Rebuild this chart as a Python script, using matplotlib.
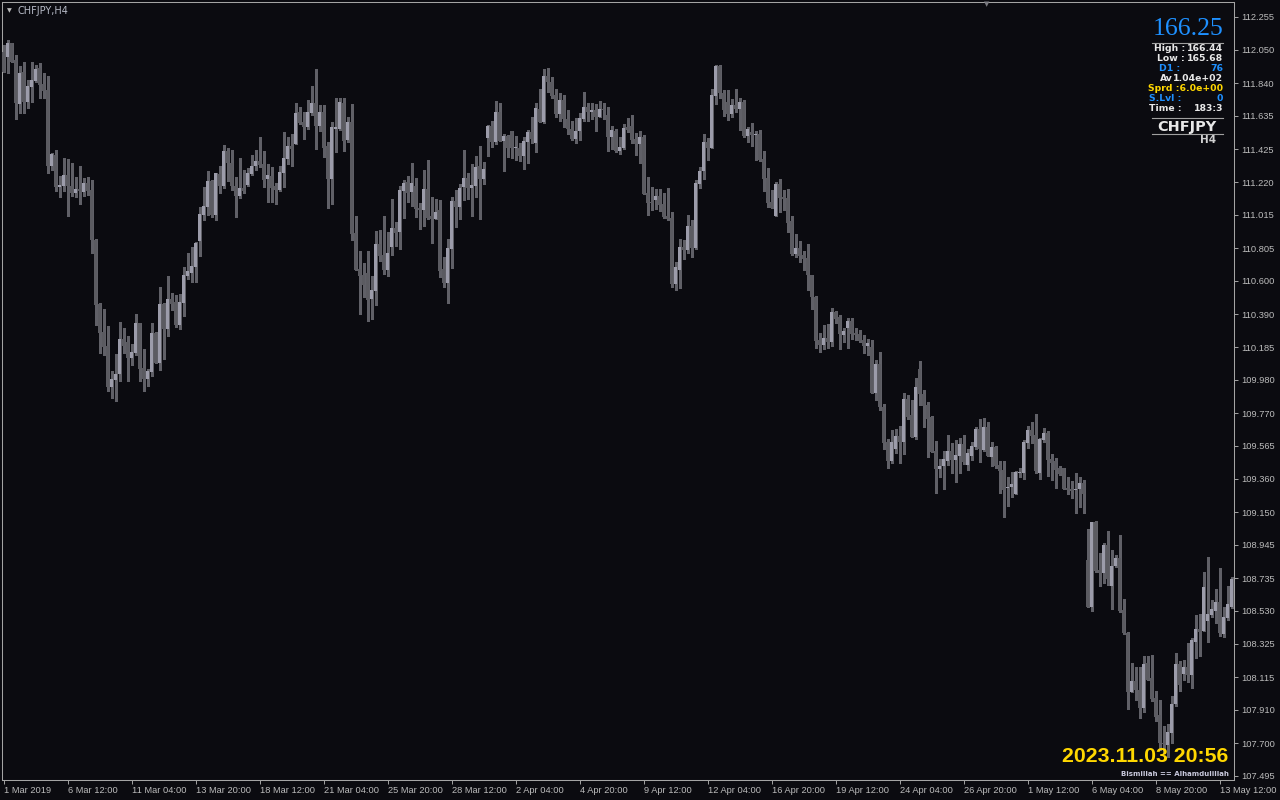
import matplotlib
matplotlib.use("Agg")
import matplotlib.pyplot as plt
from matplotlib.lines import Line2D
import numpy as np

symbol = "CHFJPY"
timeframe = "H4"

# H4 candles, 1 Mar 2019 20:00 -> 13 May 2019
opens = [
    112.038, 112.006, 112.090, 111.985, 111.709, 111.910, 111.724, 111.818, 111.856, 111.935,
    111.835, 111.797, 111.323, 111.390, 111.191, 111.197, 111.264, 111.197, 111.153, 111.174,
    111.160, 111.212, 111.170, 110.856, 110.455, 110.279, 110.192, 109.937, 109.978, 110.016,
    110.236, 110.215, 110.118, 110.150, 110.334, 110.052, 109.985, 110.031, 110.271, 110.087,
    110.455, 110.298, 110.484, 110.466, 110.323, 110.463, 110.631, 110.652, 110.689, 110.850,
    111.013, 111.066, 111.226, 111.013, 111.270, 111.195, 111.415, 111.341, 111.195, 111.132,
    111.181, 111.201, 111.270, 111.323, 111.352, 111.331, 111.239, 111.258, 111.195, 111.170,
    111.275, 111.364, 111.446, 111.459, 111.661, 111.599, 111.567, 111.651, 111.714, 111.574,
    111.661, 111.446, 111.239, 111.553, 111.553, 111.718, 111.484, 111.599, 110.898, 110.675,
    110.637, 110.652, 110.486, 110.539, 110.831, 110.762, 110.668, 110.815, 110.930, 110.905,
    111.166, 111.220, 111.160, 111.195, 111.059, 111.047, 111.176, 111.007, 110.990, 111.045,
    110.673, 110.589, 110.800, 111.101, 111.066, 111.191, 111.247, 111.185, 111.195, 111.321,
    111.237, 111.498, 111.571, 111.473, 111.661, 111.479, 111.509, 111.540, 111.431, 111.431,
    111.383, 111.473, 111.536, 111.467, 111.678, 111.599, 111.887, 111.849, 111.766, 111.645,
    111.734, 111.613, 111.551, 111.488, 111.542, 111.615, 111.688, 111.661, 111.672, 111.630,
    111.678, 111.640, 111.505, 111.542, 111.417, 111.436, 111.567, 111.571, 111.490, 111.459,
    111.500, 111.153, 111.097, 111.107, 111.132, 111.082, 111.007, 110.992, 110.581, 110.668,
    110.810, 110.794, 110.944, 110.804, 111.208, 111.289, 111.469, 111.431, 111.762, 111.948,
    111.780, 111.720, 111.647, 111.703, 111.678, 111.720, 111.509, 111.536, 111.515, 111.521,
    111.362, 111.243, 111.097, 111.009, 111.208, 111.128, 111.122, 110.976, 110.767, 110.804,
    110.762, 110.742, 110.637, 110.501, 110.229, 110.198, 110.240, 110.215, 110.407, 110.372,
    110.261, 110.307, 110.351, 110.275, 110.267, 110.229, 110.194, 110.188, 109.899, 110.079,
    109.811, 109.588, 109.471, 109.546, 109.627, 109.588, 109.859, 109.759, 109.623, 110.047,
    109.891, 109.822, 109.749, 109.533, 109.418, 109.441, 109.471, 109.533, 109.477, 109.504,
    109.577, 109.445, 109.504, 109.560, 109.671, 109.539, 109.686, 109.494, 109.560, 109.445,
    109.414, 109.299, 109.305, 109.264, 109.397, 109.397, 109.585, 109.665, 109.634, 109.397,
    109.602, 109.648, 109.483, 109.470, 109.429, 109.429, 109.303, 109.295, 109.289, 109.293,
    109.330, 108.850, 108.553, 109.086, 108.787, 108.770, 108.944, 108.689, 108.814, 108.860,
    108.536, 108.394, 108.024, 108.091, 108.034, 107.919, 108.202, 108.107, 107.982, 107.878,
    107.704, 107.689, 107.763, 107.947, 108.197, 108.135, 108.181, 108.128, 108.337, 108.417,
    108.406, 108.469, 108.505, 108.532, 108.588, 108.386, 108.488, 108.557,
]
highs = [
    112.079, 112.111, 112.094, 112.017, 111.948, 111.973, 111.860, 111.973, 111.954, 111.964,
    111.902, 111.885, 111.404, 111.421, 111.260, 111.373, 111.364, 111.337, 111.254, 111.321,
    111.243, 111.254, 111.233, 110.861, 110.459, 110.426, 110.317, 110.037, 110.141, 110.340,
    110.307, 110.254, 110.204, 110.392, 110.338, 110.173, 110.047, 110.334, 110.281, 110.564,
    110.463, 110.631, 110.522, 110.512, 110.516, 110.685, 110.777, 110.810, 110.846, 111.065,
    111.191, 111.289, 111.233, 111.279, 111.321, 111.452, 111.431, 111.421, 111.254, 111.369,
    111.295, 111.306, 111.390, 111.421, 111.500, 111.417, 111.333, 111.312, 111.216, 111.321,
    111.536, 111.500, 111.521, 111.718, 111.693, 111.661, 111.734, 111.822, 111.929, 111.703,
    111.703, 111.473, 111.599, 111.749, 111.745, 111.745, 111.630, 111.709, 111.007, 110.787,
    110.714, 110.787, 110.631, 110.913, 110.919, 111.007, 110.905, 111.114, 110.967, 111.195,
    111.233, 111.258, 111.341, 111.243, 111.091, 111.295, 111.358, 111.128, 111.112, 111.107,
    110.752, 110.863, 111.128, 111.170, 111.206, 111.421, 111.275, 111.331, 111.383, 111.446,
    111.348, 111.578, 111.603, 111.728, 111.718, 111.521, 111.515, 111.540, 111.509, 111.463,
    111.500, 111.546, 111.630, 111.714, 111.801, 111.927, 111.933, 111.877, 111.801, 111.776,
    111.766, 111.672, 111.603, 111.619, 111.655, 111.783, 111.718, 111.714, 111.707, 111.728,
    111.718, 111.693, 111.571, 111.553, 111.500, 111.584, 111.619, 111.640, 111.530, 111.540,
    111.515, 111.249, 111.191, 111.174, 111.174, 111.149, 111.181, 111.034, 110.716, 110.863,
    110.856, 111.013, 110.982, 111.233, 111.316, 111.521, 111.494, 111.801, 111.954, 111.954,
    111.797, 111.797, 111.739, 111.801, 111.745, 111.734, 111.567, 111.588, 111.540, 111.546,
    111.417, 111.306, 111.170, 111.222, 111.239, 111.170, 111.174, 111.007, 110.894, 110.850,
    110.790, 110.831, 110.640, 110.505, 110.271, 110.323, 110.328, 110.432, 110.411, 110.386,
    110.307, 110.369, 110.365, 110.302, 110.292, 110.261, 110.234, 110.229, 110.104, 110.156,
    109.828, 109.608, 109.665, 109.671, 109.690, 109.895, 109.884, 109.853, 109.993, 110.098,
    109.916, 109.843, 109.753, 109.596, 109.481, 109.533, 109.634, 109.585, 109.602, 109.613,
    109.634, 109.544, 109.592, 109.686, 109.732, 109.742, 109.713, 109.588, 109.567, 109.471,
    109.471, 109.368, 109.404, 109.410, 109.429, 109.602, 109.690, 109.717, 109.765, 109.613,
    109.680, 109.659, 109.512, 109.487, 109.441, 109.429, 109.372, 109.345, 109.393, 109.372,
    109.351, 109.042, 109.090, 109.094, 108.891, 108.958, 109.031, 108.912, 108.881, 109.006,
    108.605, 108.400, 108.206, 108.181, 108.181, 108.250, 108.248, 108.254, 108.028, 107.972,
    107.809, 107.819, 107.997, 108.264, 108.216, 108.222, 108.327, 108.358, 108.505, 108.511,
    108.776, 108.871, 108.599, 108.666, 108.797, 108.557, 108.689, 108.745,
]
lows = [
    111.912, 111.902, 111.975, 111.613, 111.651, 111.651, 111.682, 111.724, 111.845, 111.745,
    111.745, 111.279, 111.295, 111.166, 111.128, 111.166, 111.009, 111.134, 111.128, 111.080,
    111.134, 111.139, 110.777, 110.323, 110.150, 110.135, 109.912, 109.868, 109.849, 109.974,
    110.146, 109.974, 110.072, 110.135, 109.974, 109.912, 109.943, 110.006, 110.083, 110.041,
    110.108, 110.254, 110.417, 110.313, 110.298, 110.380, 110.610, 110.591, 110.591, 110.758,
    110.982, 111.013, 110.999, 110.982, 111.153, 111.181, 111.229, 111.170, 111.003, 111.122,
    111.149, 111.195, 111.264, 111.295, 111.316, 111.191, 111.097, 111.097, 111.080, 111.164,
    111.191, 111.331, 111.323, 111.459, 111.582, 111.490, 111.553, 111.640, 111.427, 111.542,
    111.375, 111.059, 111.082, 111.410, 111.546, 111.417, 111.473, 110.856, 110.668, 110.392,
    110.497, 110.351, 110.361, 110.449, 110.725, 110.641, 110.631, 110.762, 110.819, 110.800,
    110.992, 111.097, 111.070, 111.003, 110.923, 110.944, 110.986, 110.836, 110.986, 110.622,
    110.564, 110.463, 110.683, 110.940, 110.986, 111.107, 111.112, 111.009, 111.128, 110.986,
    111.206, 111.383, 111.442, 111.456, 111.477, 111.291, 111.379, 111.373, 111.358, 111.354,
    111.302, 111.337, 111.463, 111.410, 111.599, 111.588, 111.787, 111.749, 111.626, 111.603,
    111.567, 111.521, 111.484, 111.467, 111.484, 111.603, 111.603, 111.613, 111.542, 111.626,
    111.613, 111.417, 111.425, 111.410, 111.396, 111.425, 111.536, 111.467, 111.390, 111.341,
    111.143, 111.013, 111.045, 111.049, 111.040, 110.992, 110.982, 110.560, 110.543, 110.553,
    110.735, 110.777, 110.752, 110.798, 111.181, 111.237, 111.358, 111.431, 111.709, 111.745,
    111.634, 111.609, 111.630, 111.661, 111.546, 111.505, 111.473, 111.446, 111.358, 111.354,
    111.166, 111.066, 111.055, 111.009, 111.034, 111.045, 110.909, 110.762, 110.752, 110.721,
    110.668, 110.543, 110.422, 110.177, 110.156, 110.171, 110.177, 110.192, 110.338, 110.173,
    110.215, 110.181, 110.236, 110.229, 110.219, 110.146, 110.135, 109.899, 109.853, 109.790,
    109.544, 109.429, 109.460, 109.523, 109.456, 109.512, 109.732, 109.623, 109.606, 109.822,
    109.686, 109.494, 109.529, 109.268, 109.368, 109.295, 109.445, 109.397, 109.341, 109.397,
    109.450, 109.414, 109.477, 109.544, 109.466, 109.533, 109.502, 109.439, 109.424, 109.268,
    109.121, 109.188, 109.247, 109.262, 109.368, 109.356, 109.550, 109.581, 109.397, 109.358,
    109.588, 109.376, 109.351, 109.303, 109.383, 109.293, 109.261, 109.236, 109.142, 109.184,
    109.146, 108.553, 108.532, 108.776, 108.689, 108.707, 108.693, 108.540, 108.808, 108.521,
    108.385, 107.913, 108.020, 107.972, 107.857, 107.898, 108.097, 107.967, 107.840, 107.658,
    107.637, 107.616, 107.704, 107.934, 108.030, 108.097, 108.087, 108.049, 108.233, 108.248,
    108.404, 108.337, 108.494, 108.457, 108.373, 108.369, 108.473, 108.551,
]
closes = [
    111.912, 112.090, 111.975, 111.714, 111.906, 111.724, 111.822, 111.860, 111.929, 111.829,
    111.793, 111.323, 111.396, 111.191, 111.201, 111.264, 111.197, 111.153, 111.174, 111.162,
    111.212, 111.166, 110.856, 110.449, 110.275, 110.187, 109.937, 109.983, 110.016, 110.236,
    110.192, 110.118, 110.154, 110.334, 110.047, 109.985, 110.035, 110.271, 110.087, 110.455,
    110.298, 110.486, 110.455, 110.323, 110.466, 110.637, 110.662, 110.693, 110.840, 111.019,
    111.070, 111.226, 111.013, 111.275, 111.195, 111.415, 111.341, 111.195, 111.132, 111.181,
    111.164, 111.275, 111.323, 111.352, 111.327, 111.233, 111.264, 111.181, 111.170, 111.285,
    111.369, 111.446, 111.427, 111.655, 111.588, 111.567, 111.661, 111.714, 111.574, 111.661,
    111.436, 111.239, 111.567, 111.567, 111.724, 111.479, 111.599, 110.894, 110.668, 110.631,
    110.574, 110.480, 110.543, 110.831, 110.756, 110.668, 110.777, 110.930, 110.902, 111.170,
    111.212, 111.153, 111.212, 111.053, 111.047, 111.176, 110.997, 110.990, 111.032, 110.664,
    110.589, 110.804, 111.101, 111.066, 111.185, 111.247, 111.185, 111.201, 111.316, 111.237,
    111.302, 111.571, 111.473, 111.661, 111.479, 111.509, 111.436, 111.436, 111.442, 111.383,
    111.477, 111.536, 111.490, 111.686, 111.599, 111.887, 111.845, 111.762, 111.645, 111.734,
    111.613, 111.551, 111.490, 111.540, 111.619, 111.688, 111.661, 111.672, 111.630, 111.676,
    111.672, 111.505, 111.546, 111.415, 111.438, 111.561, 111.546, 111.484, 111.459, 111.500,
    111.145, 111.091, 111.086, 111.132, 111.076, 110.999, 110.988, 110.581, 110.685, 110.810,
    110.794, 110.944, 110.804, 111.212, 111.289, 111.469, 111.431, 111.766, 111.948, 111.776,
    111.672, 111.647, 111.703, 111.678, 111.720, 111.509, 111.551, 111.515, 111.521, 111.358,
    111.239, 111.091, 111.059, 111.208, 111.122, 111.114, 110.965, 110.767, 110.804, 110.758,
    110.737, 110.637, 110.497, 110.223, 110.198, 110.240, 110.215, 110.403, 110.361, 110.267,
    110.286, 110.351, 110.267, 110.259, 110.225, 110.194, 110.213, 109.899, 110.079, 109.811,
    109.585, 109.471, 109.588, 109.627, 109.588, 109.859, 109.744, 109.623, 109.937, 109.889,
    109.818, 109.734, 109.529, 109.418, 109.441, 109.483, 109.533, 109.477, 109.508, 109.577,
    109.466, 109.519, 109.565, 109.671, 109.546, 109.686, 109.504, 109.560, 109.439, 109.408,
    109.289, 109.310, 109.326, 109.404, 109.404, 109.592, 109.665, 109.629, 109.408, 109.608,
    109.648, 109.477, 109.460, 109.414, 109.389, 109.295, 109.289, 109.284, 109.295, 109.330,
    109.264, 108.553, 109.086, 108.781, 108.770, 108.944, 108.730, 108.814, 108.860, 108.530,
    108.390, 108.024, 108.091, 108.034, 107.919, 108.197, 108.097, 107.978, 107.867, 107.704,
    107.694, 107.773, 107.947, 108.197, 108.066, 108.181, 108.128, 108.348, 108.417, 108.400,
    108.678, 108.511, 108.542, 108.588, 108.394, 108.494, 108.574, 108.730,
]

time_labels = ["1 Mar 2019", "6 Mar 12:00", "11 Mar 04:00", "13 Mar 20:00", "18 Mar 12:00",
               "21 Mar 04:00", "25 Mar 20:00", "28 Mar 12:00", "2 Apr 04:00", "4 Apr 20:00",
               "9 Apr 12:00", "12 Apr 04:00", "16 Apr 20:00", "19 Apr 12:00", "24 Apr 04:00",
               "26 Apr 20:00", "1 May 12:00", "6 May 04:00", "8 May 20:00", "13 May 12:00"]
price_ticks = [112.255, 112.050, 111.840, 111.635, 111.425, 111.220, 111.015, 110.805,
               110.600, 110.390, 110.185, 109.980, 109.770, 109.565, 109.360, 109.150,
               108.945, 108.735, 108.530, 108.325, 108.115, 107.910, 107.700, 107.495]

# info panel (values as shown by the indicator); empty value = drawn as one string
info_rows = [("High :", "166.44"), ("Low :", "165.68"), ("D1 :", "76"),
             ("Av", "1.04e+02"), ("Sprd :6.0e+00", ""), ("S.Lvl :", "0"), ("Time :", "183:3")]
info_price = "166.25"
clock_text = "2023.11.03 20:56"
footer_text = "Bismillah == Alhamdulillah"

bg = "#0b0b10"
bull_col = "#9c9caa"
bear_col = "#5b5b61"
wick_col = "#606067"
frame_col = "#a4a4a4"
label_col = "#bcbcbc"
blue = "#1e90ff"
white = "#e8e8e8"
yellow = "#ffd700"

plt.rcParams["font.family"] = ["Liberation Sans", "DejaVu Sans"]

W, H = 1280, 800
fig = plt.figure(figsize=(W / 100, H / 100), dpi=100, facecolor=bg)
ax = fig.add_axes([2 / W, 20 / H, 1232 / W, 778 / H])
ax.set_facecolor(bg)

o = np.array(opens)
hi = np.array(highs)
lo = np.array(lows)
c = np.array(closes)
n = len(c)
idx = np.arange(n)
up = c >= o

ax.vlines(idx, lo, hi, color=wick_col, linewidth=0.75, antialiased=False, zorder=2)
body_bot = np.minimum(o, c)
body_h = np.maximum(np.abs(c - o), 0.007)
ax.bar(idx[up], body_h[up], bottom=body_bot[up], width=0.75, color=bull_col,
       linewidth=0, antialiased=False, zorder=3)
ax.bar(idx[~up], body_h[~up], bottom=body_bot[~up], width=0.75, color=bear_col,
       linewidth=0, antialiased=False, zorder=3)

ax.set_xlim(-0.375, n - 0.375)
ax.set_ylim(107.4698, 112.349)

ax.yaxis.tick_right()
ax.set_yticks(price_ticks, ["%.3f" % p for p in price_ticks])
ax.set_xticks(list(range(0, n, 16)), time_labels, ha="left")
ax.tick_params(axis="both", colors=frame_col, labelcolor=label_col, labelsize=6.7,
               length=3, width=0.7, direction="out")
ax.tick_params(axis="y", pad=2)
ax.tick_params(axis="x", pad=1.5)
for s in ax.spines.values():
    s.set_color(frame_col)
    s.set_linewidth(0.75)


def fx(x):
    return x / W


def fy(y):
    return 1 - y / H


# chart caption and shift marker
fig.text(fx(9.5), fy(10.5), "\u25bc", color=label_col, fontsize=4.5, ha="center", va="center",
         family="DejaVu Sans")
fig.text(fx(18), fy(10.5), symbol + "," + timeframe, color="#b8bcc8", fontsize=7, ha="left",
         va="center", family="DejaVu Sans")
fig.text(fx(987), fy(4.5), "\u25bc", color="#7a7a80", fontsize=5, ha="center", va="center",
         family="DejaVu Sans")

# info panel
fig.text(fx(1223), fy(29), info_price, color=blue, fontsize=18.5, ha="right", va="center",
         family="Liberation Serif")
for yy in (42.5, 118, 133.5):
    fig.add_artist(Line2D([fx(1152), fx(1223)], [fy(yy), fy(yy)], color="#a0a0a0",
                          linewidth=0.8))
row_cols = [white, white, blue, white, yellow, blue, white]
label_ends = [1185, 1185, 1180, 1173, 1223, 1181, 1182]
for k, (lab, val) in enumerate(info_rows):
    yy = 48.7 + k * 10
    fig.text(fx(label_ends[k]), fy(yy), lab, color=row_cols[k], fontsize=6.7, fontweight="bold",
             ha="right", va="center", family="DejaVu Sans")
    if val:
        fig.text(fx(1223), fy(yy), val, color=row_cols[k], fontsize=6.7, fontweight="bold",
                 ha="right", va="center", family="DejaVu Sans")
fig.text(fx(1187), fy(126.5), symbol, color=white, fontsize=10.4, fontweight="bold",
         ha="center", va="center", family="DejaVu Sans")
fig.text(fx(1216), fy(140), timeframe, color="#d0d0d0", fontsize=7.5, fontweight="bold",
         ha="right", va="center", family="DejaVu Sans")

# clock and footer
fig.text(fx(1228), fy(757), clock_text, color=yellow, fontsize=15.3, fontweight="bold",
         ha="right", va="center", family="Liberation Sans")
fig.text(fx(1229), fy(773.5), footer_text, color="#c8c8dc", fontsize=5, fontweight="bold",
         ha="right", va="center", family="DejaVu Sans")

fig.savefig("out.png", dpi=100, facecolor=bg)
